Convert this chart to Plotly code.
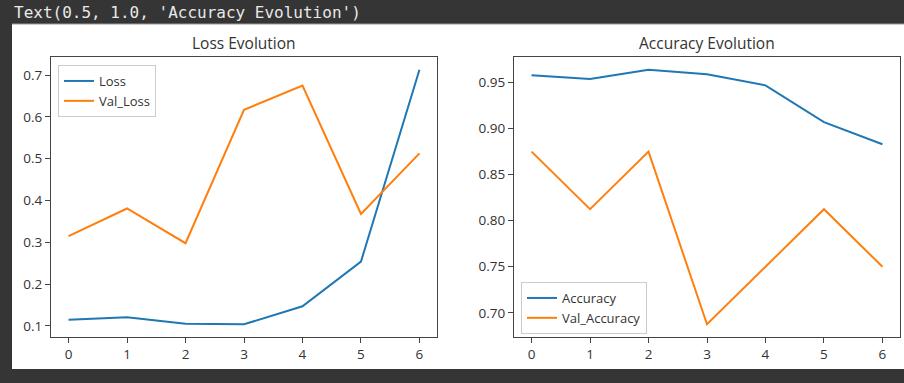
import plotly.graph_objects as go

epochs = [0, 1, 2, 3, 4, 5, 6]
loss = [0.115, 0.121, 0.105, 0.104, 0.147, 0.254, 0.713]
val_loss = [0.315, 0.381, 0.298, 0.617, 0.675, 0.368, 0.513]
accuracy = [0.958, 0.954, 0.964, 0.959, 0.947, 0.907, 0.883]
val_accuracy = [0.875, 0.8125, 0.875, 0.6875, 0.75, 0.8125, 0.75]
loss_ticks = [0.1, 0.2, 0.3, 0.4, 0.5, 0.6, 0.7]
acc_ticks = [0.70, 0.75, 0.80, 0.85, 0.90, 0.95]
acc_tick_text = ["0.70", "0.75", "0.80", "0.85", "0.90", "0.95"]

W, H = 904, 383
BLUE, ORANGE = "#1f77b4", "#ff7f0e"
DARK = "#353535"
FONT = "Open Sans"

def px(x):
    return x / W

def py(y):
    return 1 - y / H

fig = go.Figure()
fig.add_trace(go.Scatter(x=epochs, y=loss, mode="lines", name="Loss",
                         line=dict(color=BLUE, width=2), xaxis="x", yaxis="y", legend="legend"))
fig.add_trace(go.Scatter(x=epochs, y=val_loss, mode="lines", name="Val_Loss",
                         line=dict(color=ORANGE, width=2), xaxis="x", yaxis="y", legend="legend"))
fig.add_trace(go.Scatter(x=epochs, y=accuracy, mode="lines", name="Accuracy",
                         line=dict(color=BLUE, width=2), xaxis="x2", yaxis="y2", legend="legend2"))
fig.add_trace(go.Scatter(x=epochs, y=val_accuracy, mode="lines", name="Val_Accuracy",
                         line=dict(color=ORANGE, width=2), xaxis="x2", yaxis="y2", legend="legend2"))

axis_common = dict(showline=True, mirror=True, linecolor="#444", linewidth=1,
                   ticks="outside", ticklen=5, tickcolor="#444", tickwidth=1,
                   showgrid=False, zeroline=False,
                   tickfont=dict(family=FONT, size=13.5, color="#333"))

def xr(vals):
    span = max(vals) - min(vals)
    return [min(vals) - 0.05 * span, max(vals) + 0.05 * span]

lmin = min(loss + val_loss); lmax = max(loss + val_loss)
amin = min(accuracy + val_accuracy); amax = max(accuracy + val_accuracy)

fig.update_layout(
    width=W, height=H,
    margin=dict(l=0, r=0, t=0, b=0),
    paper_bgcolor=DARK, plot_bgcolor="white",
    showlegend=True,
    xaxis=dict(domain=[px(51), px(437)], range=xr(epochs), tickvals=epochs, anchor="y", **axis_common),
    yaxis=dict(domain=[py(337), py(57)], range=[lmin - 0.05 * (lmax - lmin), lmax + 0.05 * (lmax - lmin)],
               tickvals=loss_ticks, anchor="x", **axis_common),
    xaxis2=dict(domain=[px(514), px(900)], range=xr(epochs), tickvals=epochs, anchor="y2", **axis_common),
    yaxis2=dict(domain=[py(337), py(57)], range=[amin - 0.05 * (amax - amin), amax + 0.05 * (amax - amin)],
                tickvals=acc_ticks, ticktext=acc_tick_text, anchor="x2", **axis_common),
    legend=dict(x=px(58), y=py(65), xanchor="left", yanchor="top",
                bgcolor="rgba(255,255,255,0.8)", bordercolor="#ccc", borderwidth=1,
                font=dict(family=FONT, size=13, color="#333"), itemwidth=30,
                tracegroupgap=0),
    legend2=dict(x=px(521), y=py(282), xanchor="left", yanchor="top",
                 bgcolor="rgba(255,255,255,0.8)", bordercolor="#ccc", borderwidth=1,
                 font=dict(family=FONT, size=13, color="#333"), itemwidth=30,
                 tracegroupgap=0),
    shapes=[
        dict(type="rect", xref="paper", yref="paper", x0=px(12), x1=1.0, y0=py(369), y1=py(24),
             fillcolor="white", line=dict(width=0), layer="below"),
        dict(type="line", xref="paper", yref="paper", x0=px(12), x1=1.0, y0=py(24), y1=py(24),
             line=dict(color="#9a9a9a", width=1), layer="below"),
    ],
    annotations=[
        dict(text="Text(0.5, 1.0, 'Accuracy Evolution')", xref="paper", yref="paper",
             x=px(12), y=py(12), xanchor="left", yanchor="middle", showarrow=False,
             font=dict(family="DejaVu Sans Mono", size=16, color="#e8e8e8")),
        dict(text="Loss Evolution", xref="paper", yref="paper",
             x=px(244), y=py(43), xanchor="center", yanchor="middle", showarrow=False,
             font=dict(family=FONT, size=15.5, color="#333")),
        dict(text="Accuracy Evolution", xref="paper", yref="paper",
             x=px(707), y=py(43), xanchor="center", yanchor="middle", showarrow=False,
             font=dict(family=FONT, size=15.5, color="#333")),
    ],
)

fig.write_html("out.html", config={"displayModeBar": False},
               post_script="document.body.style.margin='0';document.body.style.overflow='hidden';")
